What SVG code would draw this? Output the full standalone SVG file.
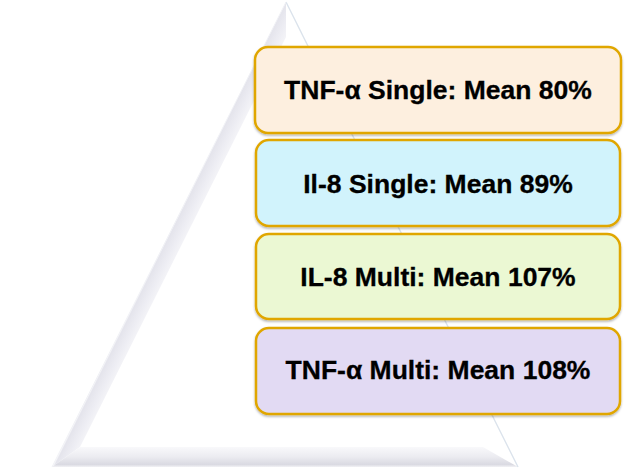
<svg xmlns="http://www.w3.org/2000/svg" width="625" height="469" viewBox="0 0 625 469">
  <defs>
    <linearGradient id="leftFace" gradientUnits="userSpaceOnUse" x1="168" y1="235" x2="194" y2="248">
      <stop offset="0" stop-color="#ffffff"/>
      <stop offset="0.06" stop-color="#e4e4ec"/>
      <stop offset="0.35" stop-color="#ededf3"/>
      <stop offset="1" stop-color="#ffffff"/>
    </linearGradient>
    <linearGradient id="bottomFace" gradientUnits="userSpaceOnUse" x1="0" y1="446" x2="0" y2="467">
      <stop offset="0" stop-color="#fafafc"/>
      <stop offset="0.5" stop-color="#ececf1"/>
      <stop offset="0.88" stop-color="#dadae2"/>
      <stop offset="1" stop-color="#f2f2f5"/>
    </linearGradient>
    <filter id="shadow" x="-5%" y="-10%" width="110%" height="125%">
      <feDropShadow dx="0" dy="1.5" stdDeviation="1.2" flood-color="#000000" flood-opacity="0.3"/>
    </filter>
  </defs>
  <style>
    .box { stroke: #E0A600; stroke-width: 2.5; filter: url(#shadow); }
    .label { font-family: "Liberation Sans", Arial, sans-serif; font-weight: bold; font-size: 26.5px; fill: #000000; stroke: #000000; stroke-width: 0.3; text-anchor: middle; }
  </style>
  <rect width="625" height="469" fill="#ffffff"/>
  <g id="pyramid">
    <polygon points="286,2 52,467 518,467" fill="#ffffff"/>
    <polygon points="286,2 52,467 80,447 286,37" fill="url(#leftFace)"/>
    <polygon points="52,467 518,467 483,447 80,447" fill="url(#bottomFace)"/>
    <line x1="286" y1="2" x2="518" y2="467" stroke="#dbe3ec" stroke-width="1.4"/>
    <line x1="286" y1="2" x2="52" y2="467" stroke="#f0f1f5" stroke-width="1"/>
  </g>
  <g id="node1">
    <rect class="box" x="255" y="47" width="366" height="86" rx="13" fill="#FDEFDF"/>
    <text class="label" x="438" y="99">TNF-α Single: Mean 80%</text>
  </g>
  <g id="node2">
    <rect class="box" x="256" y="140" width="364" height="86" rx="13" fill="#D1F3FC"/>
    <text class="label" x="438" y="193">Il-8 Single: Mean 89%</text>
  </g>
  <g id="node3">
    <rect class="box" x="256" y="234" width="364" height="85" rx="13" fill="#EBF8D3"/>
    <text class="label" x="438" y="286">IL-8 Multi: Mean 107%</text>
  </g>
  <g id="node4">
    <rect class="box" x="256" y="328" width="364" height="86" rx="13" fill="#E2DAF3"/>
    <text class="label" x="438" y="379">TNF-α Multi: Mean 108%</text>
  </g>
  <g id="connectors"/>
</svg>
